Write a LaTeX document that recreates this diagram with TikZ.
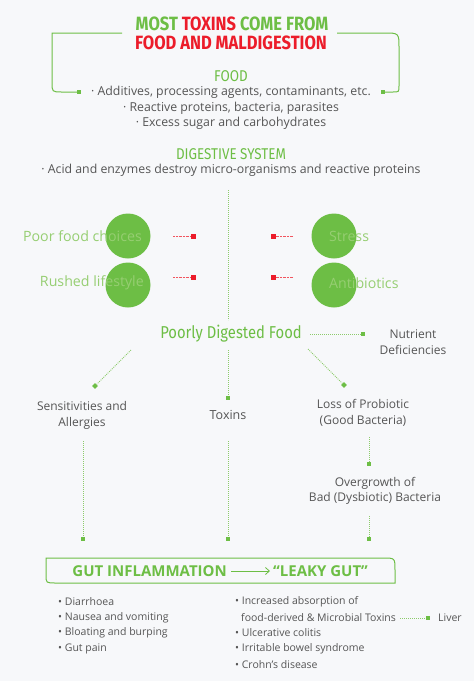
\documentclass[tikz,border=0pt]{standalone}
\usepackage{fontspec}
\setmainfont{Open Sans}
\newfontfamily\headfont[FakeStretch=0.86]{Fira Sans}
\usetikzlibrary{arrows.meta}
\definecolor{bg}{HTML}{F7F8FA}
\definecolor{gr}{HTML}{6DBE45}
\definecolor{lgr}{HTML}{96CE72}
\definecolor{rd}{HTML}{EC1C2A}
\definecolor{tx}{HTML}{555555}
\definecolor{dotc}{HTML}{8DCB6B}
\tikzset{
  body/.style={text=tx, font=\fontsize{12.3}{16}\selectfont, inner sep=0pt},
  small/.style={text=tx, font=\fontsize{10.5}{13}\selectfont, inner sep=0pt},
  head/.style={text=gr, font=\headfont\fontsize{15.6}{17}\selectfont, inner sep=0pt},
  lab/.style={text=lgr, font=\fontsize{14.2}{16}\selectfont, inner sep=0pt},
  circ/.style={circle, fill=gr, minimum size=45pt, inner sep=0pt, draw=none},
  sqg/.style={fill=gr, minimum size=4pt, inner sep=0pt, draw=none},
  dmg/.style={fill=gr, minimum size=4pt, inner sep=0pt, draw=none, rotate=45},
  sqr/.style={fill=rd, minimum size=5pt, inner sep=0pt, draw=none},
  gdot/.style={draw=dotc, line width=0.9pt, dash pattern=on 0.9pt off 1.1pt},
  rdot/.style={draw=rd!75, line width=0.8pt, dash pattern=on 0.7pt off 0.7pt},
  gline/.style={draw=gr, line width=1pt},
}
\begin{document}
\begin{tikzpicture}[x=1pt, y=-1pt]
\fill[bg] (0,0) rectangle (474,681);
\useasboundingbox (0,0) rectangle (474,681);
% title
\node[inner sep=0pt, text=gr, font=\headfont\bfseries\fontsize{19.2}{19}\selectfont] (t1) at (232,24) {MOST \textcolor{rd}{TOXINS} COME FROM};
\node[inner sep=0pt, text=rd, font=\headfont\bfseries\fontsize{19.2}{19}\selectfont] (t2) at (231,43) {FOOD AND MALDIGESTION};
% bracket
\coordinate (bl) at (122,33);
\coordinate (br) at (337,33);
\node[sqg] (fl) at (79,92) {};
\node[sqg] (fr) at (383,92) {};
\draw[gline] (bl) -- (52,33) -- (52,82) .. controls (52,92) and (52,92) .. (62,92) -- (fl);
\draw[gline] (br) -- (384,33) .. controls (399,33) and (399,33) .. (399,48) -- (399,86) .. controls (399,92) and (399,92) .. (393,92) -- (fr);
% food
\node[head] (food) at (231,76) {FOOD};
\node[body] (f1) at (231,92) {· Additives, processing agents, contaminants, etc.};
\node[body] (f2) at (231,108) {· Reactive proteins, bacteria, parasites};
\node[body] (f3) at (231,123) {· Excess sugar and carbohydrates};
% digestive system
\node[head] (ds) at (231,154) {DIGESTIVE SYSTEM};
\node[body] (d1) at (231,170) {· Acid and enzymes destroy micro-organisms and reactive proteins};
% vertical line
\coordinate (v1) at (228,190);
\coordinate (v2) at (228,320);
\draw[gdot] (v1) -- (v2);
% circles
\node[circ] (c1) at (128,236) {};
\node[circ] (c2) at (128,285) {};
\node[circ] (c3) at (334,236) {};
\node[circ] (c4) at (334,285) {};
\node[lab, anchor=east] (l1) at (142,236) {Poor food choices};
\node[lab, anchor=east] (l2) at (144,283) {Rushed lifestyle};
\node[lab, anchor=west] (l3) at (329,236) {Stress};
\node[lab, anchor=west] (l4) at (329,283) {Antibiotics};
% red connectors
\coordinate (r1s) at (173,236); \node[sqr] (r1) at (193,236) {};
\coordinate (r2s) at (173,277); \node[sqr] (r2) at (193,277) {};
\coordinate (r3s) at (293,236); \node[sqr] (r3) at (273,236) {};
\coordinate (r4s) at (293,277); \node[sqr] (r4) at (273,277) {};
\draw[rdot] (r1s) -- (r1);
\draw[rdot] (r2s) -- (r2);
\draw[rdot] (r3s) -- (r3);
\draw[rdot] (r4s) -- (r4);
% poorly digested food
\node[inner sep=0pt, text=gr, font=\headfont\fontsize{17.2}{18}\selectfont] (pdf) at (231,334) {Poorly Digested Food};
\coordinate (p1) at (310,334); \node[sqg] (m1) at (363,334) {};
\coordinate (p2) at (131,350); \node[dmg] (m2) at (95,386) {};
\coordinate (p3) at (228,350); \node[sqg] (m3) at (228,398) {};
\coordinate (p4) at (308,349); \node[dmg] (m4) at (344,385) {};
\draw[gdot] (p1) -- (m1);
\draw[gdot] (p2) -- (m2);
\draw[gdot] (p3) -- (m3);
\draw[gdot] (p4) -- (m4);
\node[body, align=center, font=\fontsize{12}{16}\selectfont] (nd) at (413,342) {Nutrient\\Deficiencies};
\node[body, align=center, font=\fontsize{12}{15.5}\selectfont] (sa) at (82,415.5) {Sensitivities and\\Allergies};
\node[body, font=\fontsize{12.5}{16}\selectfont] (tox) at (228,415) {Toxins};
\node[body, align=center, font=\fontsize{12}{15.5}\selectfont] (lp) at (363,413) {Loss of Probiotic\\(Good Bacteria)};
\coordinate (p5) at (369,437); \node[sqg] (m5) at (369,464) {};
\draw[gdot] (p5) -- (m5);
\node[body, align=center, font=\fontsize{12}{15.5}\selectfont] (ob) at (375,491) {Overgrowth of\\Bad (Dysbiotic) Bacteria};
% to gut inflammation
\coordinate (q1) at (83,441); \node[sqg] (n1) at (83,539) {};
\coordinate (q2) at (228,441); \node[sqg] (n2) at (228,539) {};
\coordinate (q3) at (369,516); \node[sqg] (n3) at (369,539) {};
\draw[gdot] (q1) -- (n1);
\draw[gdot] (q2) -- (n2);
\draw[gdot] (q3) -- (n3);
% box
\draw[gline] (46,558) -- (383,558) .. controls (395,558) and (395,558) .. (395,570) -- (395,583) -- (56,583) .. controls (46,583) and (46,583) .. (46,575) -- cycle;
\node[inner sep=0pt, text=gr, font=\bfseries\fontsize{15}{16}\selectfont, anchor=east] (gi) at (227,571) {GUT INFLAMMATION};
\node[inner sep=0pt, text=gr, font=\bfseries\fontsize{15}{16}\selectfont, anchor=west] (lg) at (273,571) {“LEAKY GUT”};
\draw[gr, line width=0.8pt, -{Straight Barb[length=4pt,width=7pt]}] (gi.east) ++(4,0) -- ([xshift=-3pt]lg.west);
% bullets
\node[small, anchor=west] (b1) at (58,602) {• Diarrhoea};
\node[small, anchor=west] (b2) at (58,618) {• Nausea and vomiting};
\node[small, anchor=west] (b3) at (58,633) {• Bloating and burping};
\node[small, anchor=west] (b4) at (58,649) {• Gut pain};
\node[small, anchor=west] (e1) at (235,602) {• Increased absorption of};
\node[small, anchor=west] (e2) at (241,618) {food-derived \& Microbial Toxins};
\node[small, anchor=west] (e3) at (235,633) {• Ulcerative colitis};
\node[small, anchor=west] (e4) at (235,649) {• Irritable bowel syndrome};
\node[small, anchor=west] (e5) at (235,665) {• Crohn’s disease};
\coordinate (lv1) at (400,618); \node[sqg] (lvm) at (428,618) {};
\draw[gdot] (lv1) -- (lvm);
\node[small, anchor=west] (liver) at (438,618) {Liver};
\end{tikzpicture}
\end{document}
